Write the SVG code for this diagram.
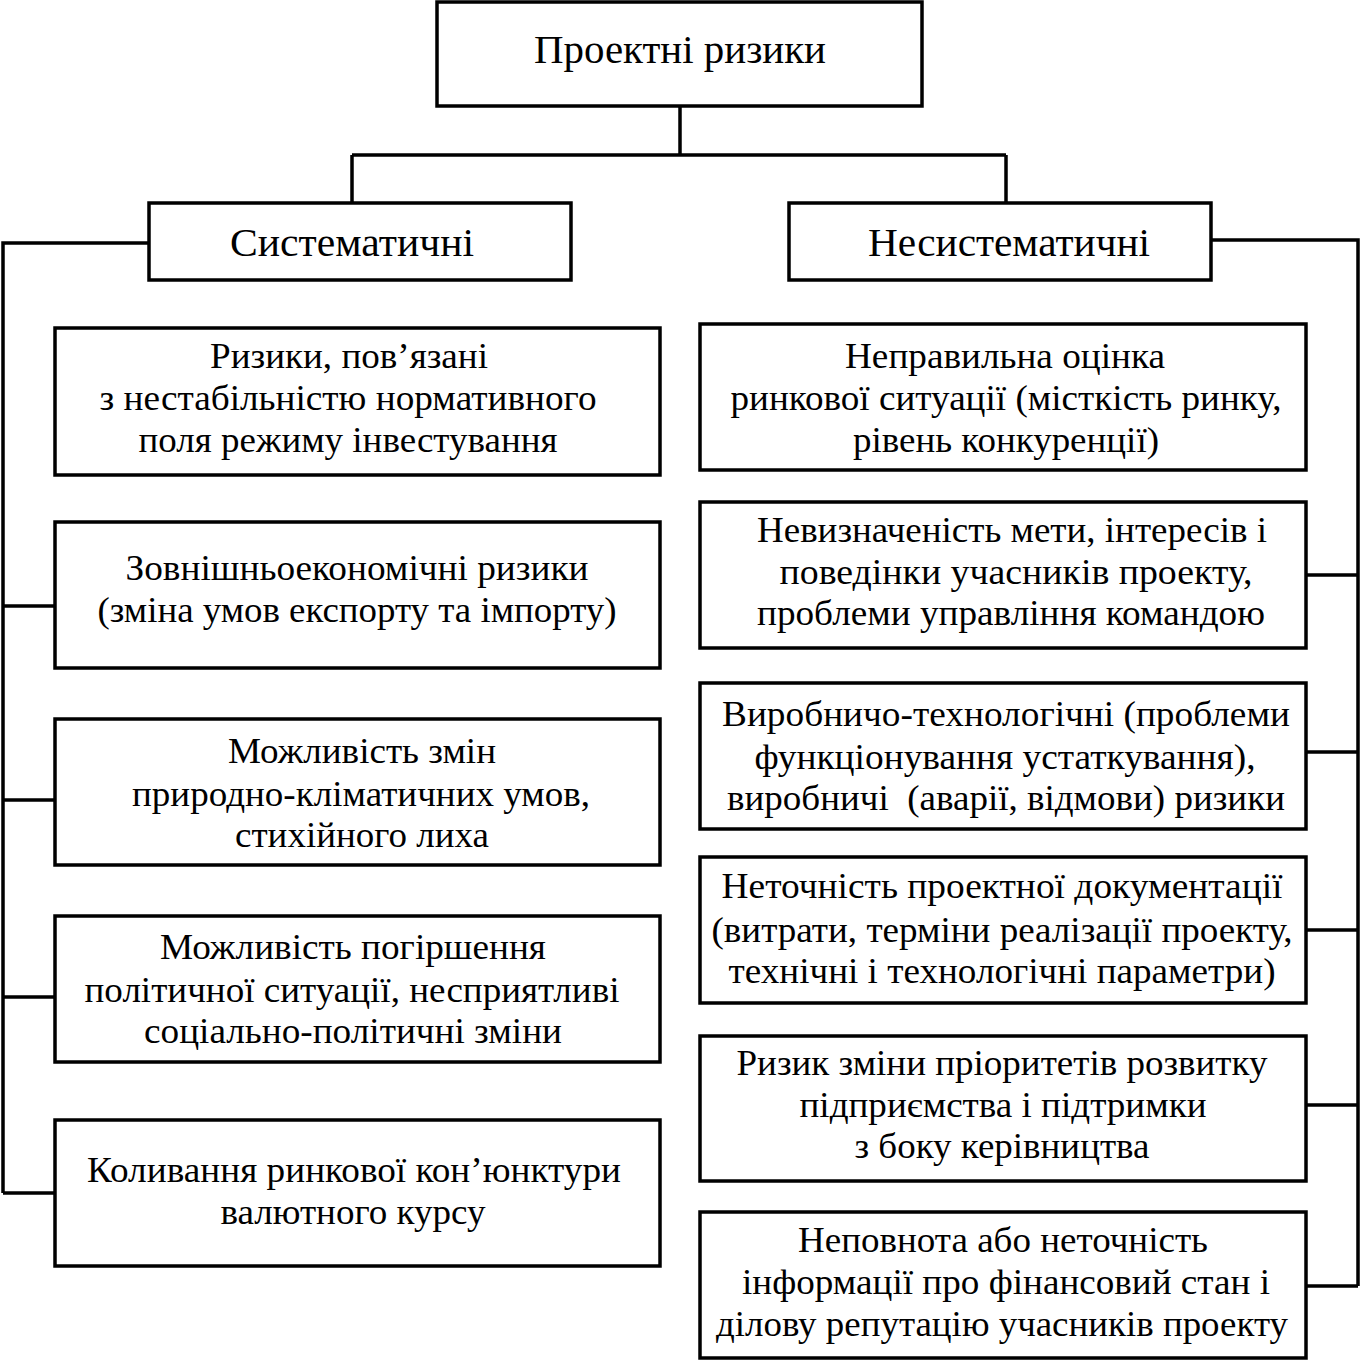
<svg xmlns="http://www.w3.org/2000/svg" width="1361" height="1361" viewBox="0 0 1361 1361">
<style>
.box{fill:#fff;stroke:#000;stroke-width:3.5}
.ln{fill:none;stroke:#000;stroke-width:3.5}
text{font-family:"Liberation Serif","Times New Roman",serif;font-size:36px;fill:#000;text-anchor:middle}
.h{font-size:41px}
.pre{white-space:pre}
</style>
<rect width="1361" height="1361" fill="#fff"/>
<g id="connectors">
<path class="ln" d="M680,106 V155 M352,155 H1006 M352,155 V203 M1006,155 V203"/>
<path class="ln" d="M149,243 H3 V1193 M3,606 H55 M3,800 H55 M3,997 H55 M3,1193 H55"/>
<path class="ln" d="M1211,240 H1358 V1286 M1306,575 H1358 M1306,752 H1358 M1306,930 H1358 M1306,1105 H1358 M1306,1286 H1358"/>
</g>
<g id="root">
<rect class="box" x="437" y="2" width="485" height="104"/>
<text class="h" x="680" y="63" textLength="292" lengthAdjust="spacingAndGlyphs">Проектні ризики</text>
</g>
<g id="sys">
<rect class="box" x="149" y="203" width="422" height="77"/>
<text class="h" x="352" y="256" textLength="244" lengthAdjust="spacingAndGlyphs">Систематичні</text>
</g>
<g id="nonsys">
<rect class="box" x="789" y="203" width="422" height="77"/>
<text class="h" x="1009" y="256" textLength="282" lengthAdjust="spacingAndGlyphs">Несистематичні</text>
</g>
<g id="l1">
<rect class="box" x="55" y="328" width="605" height="147"/>
<text x="349" y="368" textLength="278" lengthAdjust="spacingAndGlyphs">Ризики, пов’язані</text>
<text x="348" y="410" textLength="497" lengthAdjust="spacingAndGlyphs">з нестабільністю нормативного</text>
<text x="348" y="452" textLength="419" lengthAdjust="spacingAndGlyphs">поля режиму інвестування</text>
</g>
<g id="l2">
<rect class="box" x="55" y="522" width="605" height="146"/>
<text x="357" y="580" textLength="463" lengthAdjust="spacingAndGlyphs">Зовнішньоекономічні ризики</text>
<text x="357" y="622" textLength="519" lengthAdjust="spacingAndGlyphs">(зміна умов експорту та імпорту)</text>
</g>
<g id="l3">
<rect class="box" x="55" y="719" width="605" height="146"/>
<text x="362" y="763" textLength="268" lengthAdjust="spacingAndGlyphs">Можливість змін</text>
<text x="361" y="806" textLength="458" lengthAdjust="spacingAndGlyphs">природно-кліматичних умов,</text>
<text x="362" y="847" textLength="254" lengthAdjust="spacingAndGlyphs">стихійного лиха</text>
</g>
<g id="l4">
<rect class="box" x="55" y="916" width="605" height="146"/>
<text x="353" y="959" textLength="386" lengthAdjust="spacingAndGlyphs">Можливість погіршення</text>
<text x="352" y="1002" textLength="535" lengthAdjust="spacingAndGlyphs">політичної ситуації, несприятливі</text>
<text x="353" y="1043" textLength="418" lengthAdjust="spacingAndGlyphs">соціально-політичні зміни</text>
</g>
<g id="l5">
<rect class="box" x="55" y="1120" width="605" height="146"/>
<text x="354" y="1182" textLength="534" lengthAdjust="spacingAndGlyphs">Коливання ринкової кон’юнктури</text>
<text x="353" y="1224" textLength="265" lengthAdjust="spacingAndGlyphs">валютного курсу</text>
</g>
<g id="r1">
<rect class="box" x="700" y="324" width="606" height="146"/>
<text x="1005" y="368" textLength="320" lengthAdjust="spacingAndGlyphs">Неправильна оцінка</text>
<text x="1006" y="410" textLength="551" lengthAdjust="spacingAndGlyphs">ринкової ситуації (місткість ринку,</text>
<text x="1006" y="452" textLength="306" lengthAdjust="spacingAndGlyphs">рівень конкуренції)</text>
</g>
<g id="r2">
<rect class="box" x="700" y="502" width="606" height="146"/>
<text x="1012" y="542" textLength="510" lengthAdjust="spacingAndGlyphs">Невизначеність мети, інтересів і</text>
<text x="1016" y="584" textLength="473" lengthAdjust="spacingAndGlyphs">поведінки учасників проекту,</text>
<text x="1011" y="625" textLength="508" lengthAdjust="spacingAndGlyphs">проблеми управління командою</text>
</g>
<g id="r3">
<rect class="box" x="700" y="683" width="606" height="146"/>
<text x="1006" y="726" textLength="568" lengthAdjust="spacingAndGlyphs">Виробничо-технологічні (проблеми</text>
<text x="1005" y="769" textLength="501" lengthAdjust="spacingAndGlyphs">функціонування устаткування),</text>
<text class="pre" x="1006" y="810" textLength="558" lengthAdjust="spacingAndGlyphs">виробничі  (аварії, відмови) ризики</text>
</g>
<g id="r4">
<rect class="box" x="700" y="857" width="606" height="146"/>
<text x="1002" y="898" textLength="561" lengthAdjust="spacingAndGlyphs">Неточність проектної документації</text>
<text x="1002" y="942" textLength="581" lengthAdjust="spacingAndGlyphs">(витрати, терміни реалізації проекту,</text>
<text x="1002" y="983" textLength="547" lengthAdjust="spacingAndGlyphs">технічні і технологічні параметри)</text>
</g>
<g id="r5">
<rect class="box" x="700" y="1036" width="606" height="145"/>
<text x="1002" y="1075" textLength="531" lengthAdjust="spacingAndGlyphs">Ризик зміни пріоритетів розвитку</text>
<text x="1003" y="1117" textLength="407" lengthAdjust="spacingAndGlyphs">підприємства і підтримки</text>
<text x="1002" y="1158" textLength="295" lengthAdjust="spacingAndGlyphs">з боку керівництва</text>
</g>
<g id="r6">
<rect class="box" x="700" y="1212" width="606" height="146"/>
<text x="1003" y="1252" textLength="410" lengthAdjust="spacingAndGlyphs">Неповнота або неточність</text>
<text x="1006" y="1294" textLength="528" lengthAdjust="spacingAndGlyphs">інформації про фінансовий стан і</text>
<text x="1002" y="1336" textLength="572" lengthAdjust="spacingAndGlyphs">ділову репутацію учасників проекту</text>
</g>
</svg>
